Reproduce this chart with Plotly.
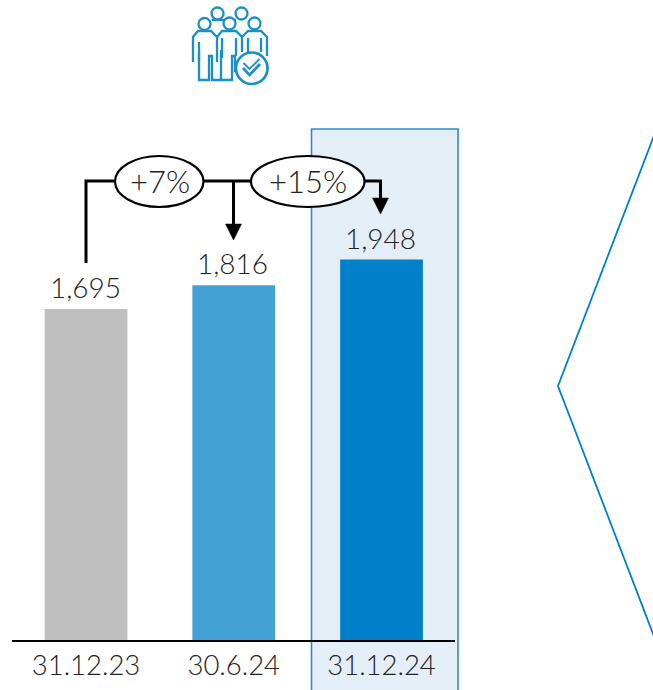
import plotly.graph_objects as go

W, H = 653, 690
categories = ["31.12.23", "30.6.24", "31.12.24"]
values = [1695, 1816, 1948]
value_labels = ["1,695", "1,816", "1,948"]
bar_colors = ["#BFBFBF", "#43A1D6", "#0080C8"]
growth_labels = ["+7%", "+15%"]

FONT = "Lato"
TEXT = "#222222"
BLUE = "#0080C8"
ICON = "#1B8FC8"

def X(p): return p / W
def Y(p): return 1 - p / H

def line(pts, color="black", width=3):
    d = "M" + " L".join(f"{X(a):.5f},{Y(b):.5f}" for a, b in pts)
    return dict(type="path", xref="paper", yref="paper", path=d, line=dict(color=color, width=width))

def tri(pts, color="black"):
    d = "M" + " L".join(f"{X(a):.5f},{Y(b):.5f}" for a, b in pts) + " Z"
    return dict(type="path", xref="paper", yref="paper", path=d, fillcolor=color, line=dict(color=color, width=0.5))

def oval(x0, y0, x1, y1, fill="white", color="black", width=2.2):
    return dict(type="circle", xref="paper", yref="paper", x0=X(x0), x1=X(x1), y0=Y(y1), y1=Y(y0),
                fillcolor=fill, line=dict(color=color, width=width))

shapes = [
    dict(type="rect", xref="paper", yref="paper", x0=X(311.5), x1=X(458), y0=Y(692), y1=Y(129),
         fillcolor="#E3EEF7", line=dict(color="#3089C6", width=1.6), layer="below"),
    line([(660, 120), (558, 386), (660, 652)], BLUE, 1.8),
    line([(86, 263), (86, 181), (380.5, 181), (380.5, 200)]),
    line([(233.5, 181), (233.5, 226)]),
    tri([(225.5, 224), (241.5, 224), (233.5, 240)]),
    tri([(372.5, 198), (388.5, 198), (380.5, 214)]),
    oval(115, 156, 203.5, 207),
    oval(251, 156, 364.5, 207),
]

# people icon
bodies = [
    [(223, 20), (212, 20)],
    [(236, 20), (223, 20)],
    [(193, 62), (193, 37), (198, 31), (211, 31), (217, 37)],
    [(199, 42), (199, 62)],
    [(199, 52), (199, 80), (209, 80), (209, 56), (212, 56), (212, 80), (221, 80)],
    [(217, 37), (217, 62)],
    [(221, 50), (221, 80), (232, 80), (232, 56), (235, 56), (235, 72)],
    [(217, 37), (222, 31), (236, 31), (242, 37), (242, 52)],
    [(242, 37), (248, 31), (261, 31), (267, 37), (267, 56)],
    [(222, 38), (222, 58)],
    [(236, 38), (236, 56)],
    [(248, 38), (248, 52)],
    [(261, 38), (261, 52)],
]
for b in bodies:
    shapes.append(line(b, ICON, 2.3))
for cx, cy in [(217.5, 13.5), (241.5, 13.5), (204.5, 24), (229.5, 23.5), (254.5, 23.5)]:
    shapes.append(oval(cx - 6, cy - 6, cx + 6, cy + 6, "white", ICON, 2.3))
shapes.append(oval(236, 52.5, 267.5, 84, "white", ICON, 2.7))
shapes.append(line([(243, 68), (249.5, 75), (260, 64)], ICON, 2.8))
shapes.append(line([(243.5, 63), (249.5, 69), (259.5, 59)], ICON, 1.8))

fig = go.Figure(go.Bar(
    x=categories, y=values, marker=dict(color=bar_colors, line=dict(width=0)),
    width=0.56, hoverinfo="skip",
))

annotations = [
    dict(xref="paper", yref="paper", x=X(159.5), y=Y(181), text=growth_labels[0], showarrow=False,
         font=dict(family=FONT, size=31, color=TEXT, weight=300), xanchor="center", yanchor="middle"),
    dict(xref="paper", yref="paper", x=X(307.5), y=Y(181), text=growth_labels[1], showarrow=False,
         font=dict(family=FONT, size=31, color=TEXT, weight=300), xanchor="center", yanchor="middle"),
]
for c, v, t in zip(categories, values, value_labels):
    annotations.append(dict(x=c, y=v, text=t, showarrow=False, yanchor="bottom", xanchor="center", yshift=3, xshift=-1,
                            font=dict(family=FONT, size=28, color=TEXT, weight=300)))

# pixels: bar centres 86 + 147.75*i; axis line from x=12 to x=455
x_lo = (12 - 86) / 147.75
x_hi = (455 - 86) / 147.75
fig.update_layout(
    width=W, height=H, autosize=False, margin=dict(l=0, r=0, t=0, b=0),
    paper_bgcolor="white", plot_bgcolor="rgba(0,0,0,0)", showlegend=False,
    shapes=shapes, annotations=annotations,
    xaxis=dict(domain=[12 / W, 455 / W], range=[x_lo, x_hi], type="category",
               showline=True, linecolor="black", linewidth=2, showgrid=False, ticks="",
               tickfont=dict(family=FONT, size=27.5, color=TEXT, weight=300), ticklen=0, fixedrange=True),
    yaxis=dict(domain=[50 / H, 1], range=[0, 640 / 0.1953], visible=False, showgrid=False, zeroline=False, fixedrange=True),
)
fig.write_html("out.html", config=dict(displayModeBar=False),
               post_script="document.body.style.margin='0';document.documentElement.style.overflow='hidden';")
